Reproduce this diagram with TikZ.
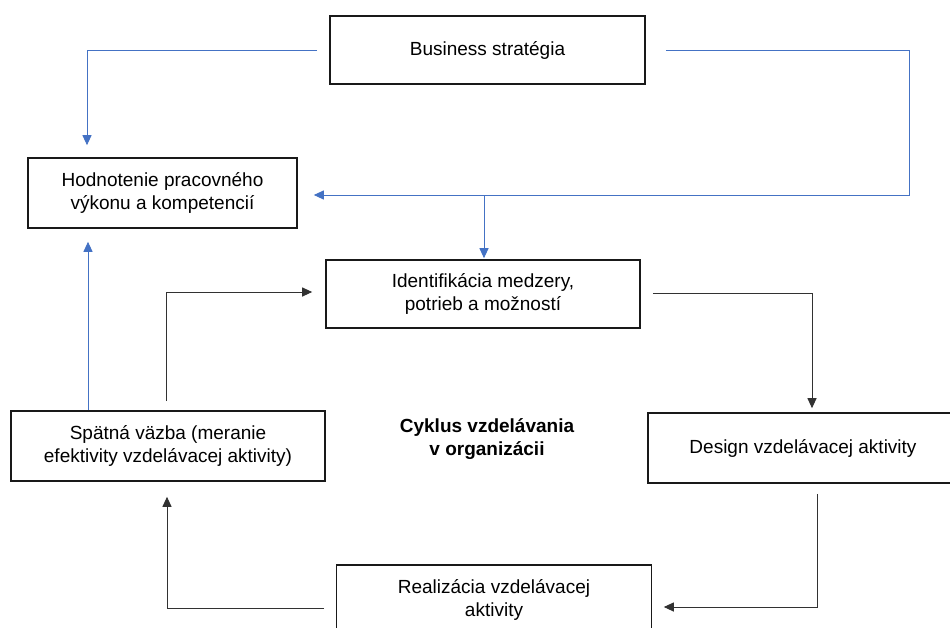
\documentclass[tikz,border=0pt]{standalone}
\usepackage{fontspec}
\setmainfont{Liberation Sans}
\usetikzlibrary{arrows.meta}
\definecolor{linkblue}{RGB}{68,114,196}
\definecolor{linkgray}{RGB}{50,50,50}
\begin{document}
\begin{tikzpicture}[x=1pt,y=-1pt,>={Triangle[length=10pt,width=9pt]},
	box/.style={draw=black!90,line width=1.6pt,align=center,inner sep=0pt,
		font=\fontsize{19}{23}\selectfont},
	blu/.style={->,draw=linkblue,line width=1pt},
	blk/.style={->,draw=linkgray,line width=1pt}]
	\useasboundingbox (0,0) rectangle (950,627);
	\clip (0,0) rectangle (950,627);
	\node[box,minimum width=315pt,minimum height=68pt] (bs) at (487.5,50) {\raisebox{2pt}{Business stratégia}};
	\node[box,minimum width=269pt,minimum height=70pt] (hod) at (162.5,193) {Hodnotenie pracovného\\výkonu a kompetencií};
	\node[box,minimum width=314pt,minimum height=68pt] (idf) at (483,294) {Identifikácia medzery,\\potrieb a možností};
	\node[box,minimum width=314pt,minimum height=70pt] (spat) at (168,446) {Spätná väzba (meranie\\efektivity vzdelávacej aktivity)};
	\node[box,minimum width=310pt,minimum height=70pt] (des) at (803,448) {Design vzdelávacej aktivity};
	\node[box,minimum width=315pt,minimum height=70pt] (real) at (494,600) {Realizácia vzdelávacej\\aktivity};
	\node[align=center,font=\fontsize{19}{23}\selectfont\bfseries] (cyc) at (487,439) {Cyklus vzdelávania\\v organizácii};
	% strategia -> hodnotenie, identifikacia
	\draw[blu] ([xshift=-12pt]bs.west) -| ([xshift=-75.5pt,yshift=12pt]hod.north);
	\draw[blu] ([xshift=20pt]bs.east) -- ++(244,0) |- ([xshift=16pt,yshift=-2pt]hod.east);
	\coordinate (jn) at (484,195);
	\draw[blu] (jn) -- ([xshift=1pt,yshift=1pt]idf.north);
	\draw[blu] ([xshift=-80pt]spat.north) -- ([xshift=-74.5pt,yshift=-13pt]hod.south);
	% cyklus
	\draw[blk] ([xshift=-2pt,yshift=9pt]spat.north) |- ([xshift=-13pt,yshift=2pt]idf.west);
	\draw[blk] ([xshift=12pt,yshift=1pt]idf.east) -| ([xshift=9pt,yshift=4pt]des.north);
	\draw[blk] ([xshift=14pt,yshift=-10pt]des.south) |- ([xshift=11.5pt,yshift=-7pt]real.east);
	\draw[blk] ([xshift=-11.5pt,yshift=-8pt]real.west) -| ([xshift=-1pt,yshift=-15pt]spat.south);
\end{tikzpicture}
\end{document}
